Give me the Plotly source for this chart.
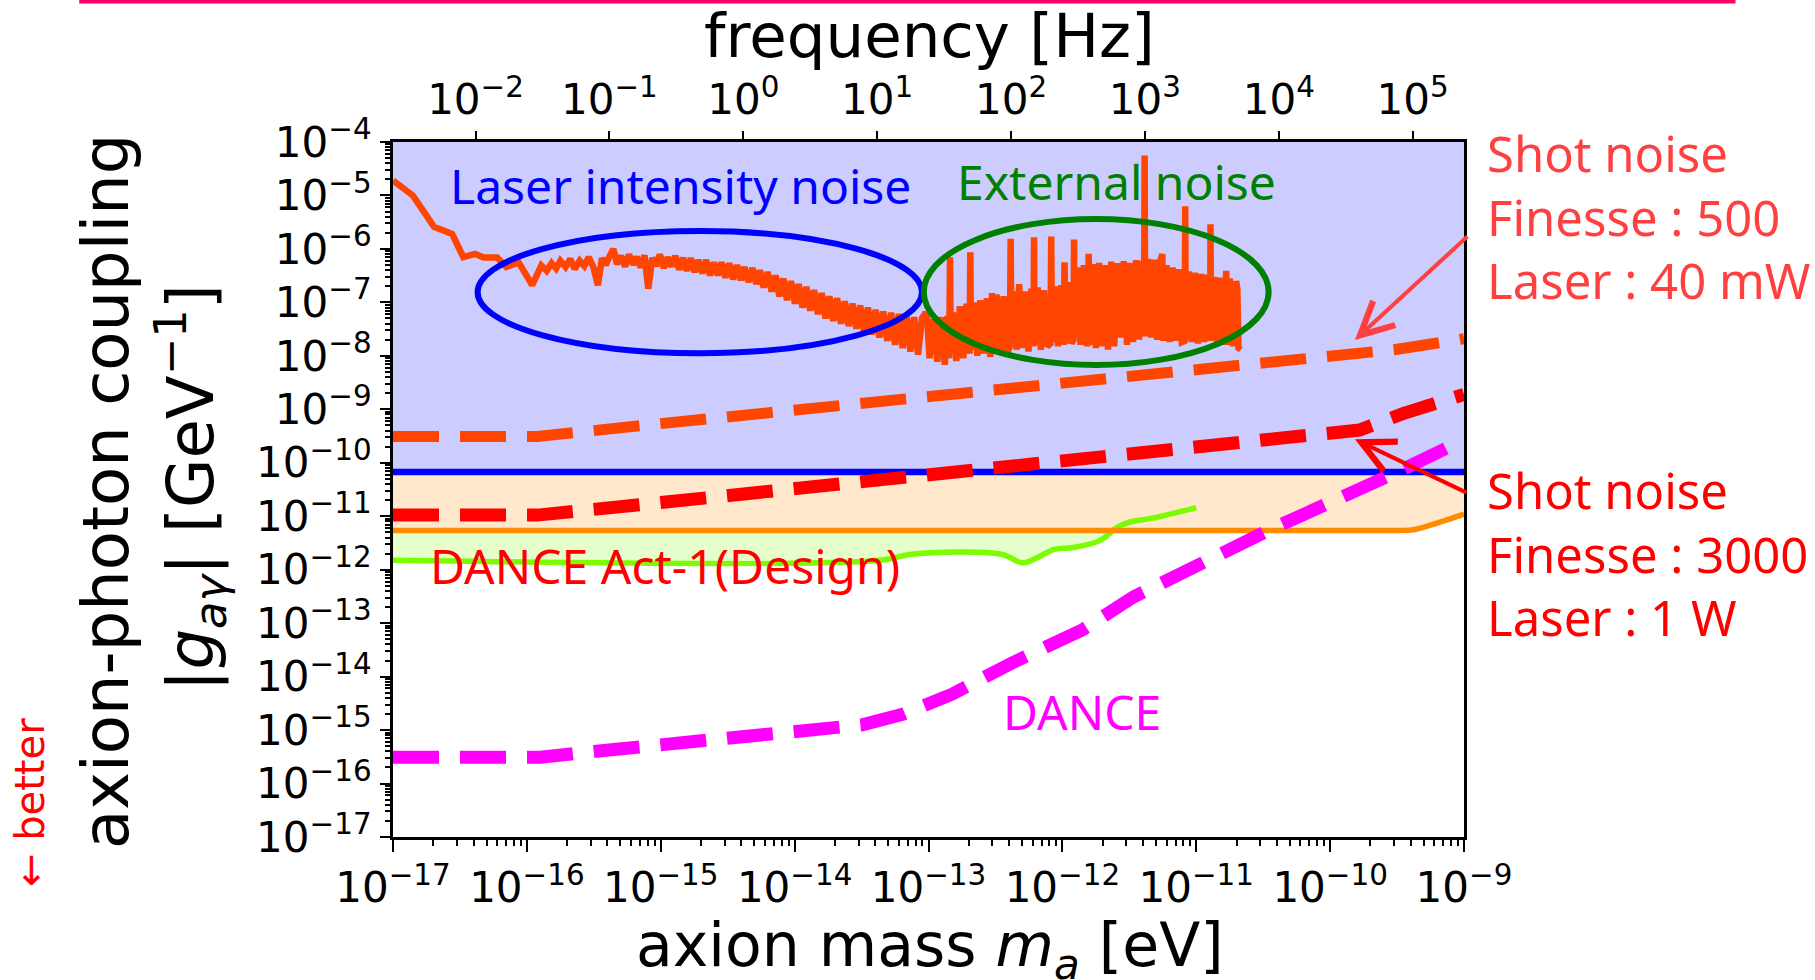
import math
import plotly.graph_objects as go

H_EV_S = 4.135667e-15  # Planck constant [eV s]: m_a = h f

# ---------------- tick labels ----------------
mass_exp = [-17, -16, -15, -14, -13, -12, -11, -10, -9]
freq_exp = [-2, -1, 0, 1, 2, 3, 4, 5]
g_exp = [-17, -16, -15, -14, -13, -12, -11, -10, -9, -8, -7, -6, -5, -4]

def sup(e):
    return "10<sup>" + str(e).replace("-", "\u2212") + "</sup>"

mass_tickvals = [10.0 ** e for e in mass_exp]
mass_ticktext = [sup(e) for e in mass_exp]
freq_tickvals = [10.0 ** e for e in freq_exp]
freq_ticktext = [sup(e) for e in freq_exp]
g_tickvals = [10.0 ** e for e in g_exp]
g_ticktext = [sup(e) for e in g_exp]

M_MIN, M_MAX = 1e-17, 1e-9
G_MIN, G_MAX = 1e-17, 1e-4

# ---------------- data ----------------
# CAST-like limit (blue)
cast_m = [1e-17, 1e-9]
cast_g = [6.7e-11, 6.7e-11]

# orange limit
orange_m = [1e-17, 3.2e-10, 4.2e-10, 5.6e-10, 7.5e-10, 1e-9]
orange_g = [5.4e-12, 5.4e-12, 5.6e-12, 6.8e-12, 8.6e-12, 1.1e-11]

# green limit
green_m = [1e-17, 4.4e-14, 7.5e-14, 3.5e-13, 5.1e-13, 8.7e-13, 1.2e-12,
           1.9e-12, 2.6e-12, 3.2e-12, 4.6e-12, 1e-11]
green_g = [1.5e-12, 1.5e-12, 1.95e-12, 1.95e-12, 1.35e-12, 2.4e-12, 2.6e-12,
           3.5e-12, 6.3e-12, 7.8e-12, 9.1e-12, 1.45e-11]

# shot noise, finesse 500, 40 mW
sn500_m = [1e-17, 1.2e-16, 1e-15, 1e-14, 1e-13, 1e-12, 1e-11, 1e-10, 3e-10, 6e-10, 1e-9]
sn500_g = [3.1e-10, 3.1e-10, 5.4e-10, 9.5e-10, 1.7e-9, 3.0e-9, 5.4e-9, 9.5e-9, 1.3e-8, 1.7e-8, 2.1e-8]

# shot noise, finesse 3000, 1 W
sn3000_m = [1e-17, 1.2e-16, 1e-15, 1e-14, 1e-13, 1e-12, 1e-11, 5e-11, 1.66e-10, 3.5e-10, 6e-10, 1e-9]
sn3000_g = [1.05e-11, 1.05e-11, 1.8e-11, 3.2e-11, 5.6e-11, 1.0e-10, 1.8e-10, 2.8e-10, 4.1e-10,
            8.3e-10, 1.3e-9, 1.9e-9]

# DANCE design sensitivity
dance_m = [1e-17, 1.26e-16, 4.3e-16, 4.8e-15, 1.6e-14, 3.2e-14, 6.5e-14, 1.5e-13, 4.2e-13,
           1.4e-12, 3.4e-12, 3.5e-11, 3.2e-10, 1e-9]
dance_g = [3.1e-16, 3.1e-16, 4.3e-16, 7.6e-16, 1.0e-15, 1.25e-15, 2.0e-15, 4.7e-15, 1.8e-14,
           7.4e-14, 3.1e-13, 5.5e-12, 6.8e-11, 2.7e-10]

# measured DANCE Act-1 noise (vs frequency, Hz)
noise_freq = [
    0.00242, 0.0034, 0.0049, 0.0067, 0.0081, 0.0099, 0.0115, 0.0145, 0.017, 0.021, 0.0265, 0.031,
    0.034, 0.037, 0.040, 0.043, 0.047, 0.051, 0.055, 0.060, 0.065, 0.070, 0.076, 0.082,
    0.088, 0.094, 0.100, 0.107, 0.114, 0.122, 0.131, 0.140, 0.150, 0.160, 0.171, 0.183,
    0.195, 0.209, 0.223, 0.238, 0.255, 0.272, 0.291, 0.311, 0.332, 0.355, 0.379, 0.405,
    0.433, 0.462, 0.494, 0.528, 0.564, 0.603, 0.644, 0.688, 0.735, 0.786, 0.840, 0.897, 0.959,
    1.02, 1.09, 1.17, 1.25, 1.33, 1.42, 1.52, 1.63, 1.74, 1.86, 1.99, 2.12, 2.27, 2.43,
    2.59, 2.77, 2.96, 3.16, 3.38, 3.61, 3.85, 4.12, 4.40, 4.70, 5.02, 5.37, 5.73, 6.12,
    6.54, 6.99, 7.47, 7.98, 8.53, 9.11, 9.74, 10.4, 11.1, 11.9, 12.7, 13.6, 14.5, 15.5,
    16.6, 17.7, 18.9, 20.2, 21.6, 23.1, 23.7, 24.6, 26.3, 28.1, 30.0, 32.0,
    33.5, 34.5, 35.0, 35.5, 37.0, 39.0, 41.5, 44.0, 46.5, 49.0, 49.6, 50.3, 53.0, 56.0,
    59.0, 62.5, 66.0, 70.0, 72.0, 74.0, 78.0, 83.0, 88.0, 93.0, 98.0, 99.3, 100.7, 106.0,
    110.0, 115.0, 120.0, 127.0, 135.0, 142.0, 147.0, 148.5, 150.0, 158.0, 167.0, 176.0,
    186.0, 197.0, 199.5, 202.0, 212.0, 224.0, 237.0, 247.0, 251.0, 255.0, 268.0, 283.0,
    293.0, 295.5, 298.0, 314.0, 330.0, 350.0, 370.0, 380.0, 392.0, 410.0, 430.0, 455.0,
    480.0, 505.0, 530.0, 560.0, 590.0, 625.0, 660.0, 695.0, 735.0, 775.0, 815.0, 860.0,
    905.0, 950.0, 985.0, 995.0, 1005.0, 1050.0, 1110.0, 1170.0, 1235.0, 1300.0, 1350.0, 1370.0,
    1450.0, 1530.0, 1610.0, 1700.0, 1795.0, 1890.0, 1985.0, 2000.0, 2015.0, 2120.0, 2240.0,
    2360.0, 2490.0, 2630.0, 2770.0, 2920.0, 3070.0, 3090.0, 3110.0, 3280.0, 3460.0, 3650.0,
    3850.0, 4050.0, 4070.0, 4300.0, 4550.0, 4800.0, 4900.0, 5000.0, 5200.0,
]
noise_g = [
    1.9e-5, 1.0e-5, 2.6e-6, 1.9e-6, 7.0e-7, 8.1e-7, 6.9e-7, 6.9e-7, 4.6e-7, 5.6e-7, 2.1e-7, 4.9e-7,
    3.9e-7, 5.4e-7, 4.3e-7, 6.0e-7, 4.6e-7, 6.5e-7, 4.2e-7, 6.0e-7, 4.8e-7, 7.0e-7, 4.5e-7, 2.1e-7,
    6.7e-7, 5.0e-7, 7.2e-7, 1.0e-6, 5.2e-7, 7.4e-7, 4.7e-7, 7.9e-7, 5.1e-7, 7.1e-7, 4.5e-7, 7.6e-7,
    1.8e-7, 6.8e-7, 4.8e-7, 7.9e-7, 4.4e-7, 7.0e-7, 4.7e-7, 7.4e-7, 4.1e-7, 6.8e-7, 3.9e-7, 6.7e-7,
    3.7e-7, 6.2e-7, 3.5e-7, 6.2e-7, 3.2e-7, 5.6e-7, 3.2e-7, 5.6e-7, 2.9e-7, 5.4e-7, 2.7e-7, 5.0e-7, 2.6e-7,
    4.6e-7, 2.4e-7, 4.4e-7, 2.2e-7, 4.0e-7, 1.9e-7, 3.7e-7, 1.6e-7, 3.2e-7, 1.3e-7, 2.8e-7, 1.1e-7, 2.5e-7, 9.5e-8,
    2.2e-7, 8.0e-8, 1.95e-7, 7.0e-8, 1.7e-7, 6.0e-8, 1.5e-7, 5.0e-8, 1.3e-7, 4.5e-8, 1.2e-7, 4.0e-8, 1.05e-7, 3.6e-8,
    9.5e-8, 3.2e-8, 8.8e-8, 2.8e-8, 8.0e-8, 2.5e-8, 7.3e-8, 2.2e-8, 6.8e-8, 1.9e-8, 6.4e-8, 1.6e-8, 6.1e-8, 1.4e-8,
    5.8e-8, 1.2e-8, 5.3e-8, 1.05e-8, 5.0e-8, 6.5e-8, 4.7e-8, 9.0e-9, 4.9e-8, 7.8e-9, 5.3e-8, 6.8e-9,
    5.6e-8, 9.0e-9, 7.0e-7, 1.2e-8, 6.5e-8, 8.0e-9, 8.5e-8, 9.0e-9, 9.5e-8, 1.1e-8, 8.7e-7, 1.3e-8, 1.0e-7, 1.0e-8,
    1.1e-7, 1.1e-8, 1.2e-7, 9.5e-9, 1.5e-7, 1.2e-8, 1.4e-7, 1.3e-8, 1.3e-7, 1.1e-8, 1.5e-8, 1.55e-6, 1.6e-8, 1.6e-7,
    1.3e-8, 2.2e-7, 1.4e-8, 1.6e-7, 1.2e-8, 1.8e-7, 1.5e-8, 1.66e-6, 1.6e-8, 1.9e-7, 1.3e-8, 1.7e-7,
    1.5e-8, 1.7e-8, 1.7e-6, 1.8e-8, 2.0e-7, 1.5e-8, 2.1e-7, 1.6e-8, 5.6e-7, 1.7e-8, 2.4e-7, 1.7e-8,
    2.0e-8, 1.5e-6, 2.2e-8, 4.5e-7, 1.6e-8, 5.0e-7, 1.5e-8, 8.1e-7, 1.6e-8, 5.2e-7, 1.4e-8, 5.5e-7,
    1.5e-8, 5.0e-7, 1.3e-8, 5.8e-7, 1.5e-8, 5.4e-7, 2.2e-8, 5.9e-7, 1.6e-8, 5.5e-7, 1.8e-8, 6.2e-7,
    2.0e-8, 6.0e-7, 2.3e-8, 5.6e-5, 2.4e-8, 6.5e-7, 2.2e-8, 6.3e-7, 2.0e-8, 5.9e-7, 8.0e-7, 1.9e-8,
    5.0e-7, 1.8e-8, 4.5e-7, 1.9e-8, 4.2e-7, 1.8e-8, 1.9e-8, 6.3e-6, 2.0e-8, 3.8e-7, 1.8e-8,
    3.6e-7, 1.7e-8, 3.4e-7, 1.8e-8, 3.3e-7, 1.9e-8, 2.9e-6, 2.0e-8, 3.0e-7, 1.7e-8, 2.9e-7,
    1.6e-8, 3.9e-7, 1.6e-8, 2.8e-7, 1.5e-8, 2.5e-7, 1.8e-7, 1.4e-8, 1.3e-8,
]

# ---------------- figure ----------------
fig = go.Figure()

def region(xs, ys, color):
    # filled region from a limit curve up to the top of the plot
    fig.add_trace(go.Scatter(
        x=list(xs) + [xs[-1], xs[0]], y=list(ys) + [G_MAX, G_MAX],
        fill="toself", fillcolor=color, mode="lines", line=dict(width=0),
        hoverinfo="skip", showlegend=False))

region(green_m, green_g, "rgb(230,254,204)")
region(orange_m, orange_g, "rgb(255,232,204)")
region(cast_m, cast_g, "rgb(204,204,255)")

def curve(xs, ys, color, width, dash=None, xaxis="x", shape="linear"):
    fig.add_trace(go.Scatter(
        x=xs, y=ys, mode="lines", xaxis=xaxis, yaxis="y",
        line=dict(color=color, width=width, dash=dash, shape=shape),
        hoverinfo="skip", showlegend=False))

curve(green_m, green_g, "#7CFC00", 5.5, shape="spline")
curve(orange_m, orange_g, "#FF8C00", 5.5, shape="spline")
curve(cast_m, cast_g, "#0000FF", 6.5)
curve(noise_freq, noise_g, "#FF4500", 6.5, xaxis="x2")
curve(sn500_m, sn500_g, "#FF4500", 11, dash="46px,21px")
curve(sn3000_m, sn3000_g, "#FF0000", 13, dash="46px,21px")
curve(dance_m, dance_g, "#FF00FF", 13, dash="46px,21px")

tickfont = dict(family="DejaVu Sans", size=42, color="black")
minor_mass = [k * 10.0 ** e for e in mass_exp[:-1] for k in range(2, 10)]
minor_g = [k * 10.0 ** e for e in g_exp[:-1] for k in range(2, 10)]

fig.update_layout(
    width=1815, height=980,
    margin=dict(l=393, r=351, t=142, b=143),
    paper_bgcolor="white", plot_bgcolor="white",
    showlegend=False,
    xaxis=dict(type="log", range=[math.log10(M_MIN), math.log10(M_MAX)],
               tickmode="array", tickvals=mass_tickvals, ticktext=mass_ticktext,
               ticks="outside", ticklen=12, tickwidth=2, tickcolor="black",
               minor=dict(tickmode="array", tickvals=minor_mass, ticks="outside",
                          ticklen=6, tickwidth=1.5, tickcolor="black", showgrid=False),
               showline=True, linecolor="black", linewidth=3, mirror=True,
               showgrid=False, zeroline=False, tickfont=tickfont),
    xaxis2=dict(type="log", overlaying="x", side="top", anchor="y",
                range=[math.log10(M_MIN / H_EV_S), math.log10(M_MAX / H_EV_S)],
                tickmode="array", tickvals=freq_tickvals, ticktext=freq_ticktext,
                ticks="outside", ticklen=10, tickwidth=2, tickcolor="black",
                showline=False, showgrid=False, zeroline=False, tickfont=tickfont),
    yaxis=dict(type="log", range=[math.log10(G_MIN), math.log10(G_MAX)],
               tickmode="array", tickvals=g_tickvals, ticktext=g_ticktext,
               ticks="outside", ticklen=10, tickwidth=2, tickcolor="black",
               minor=dict(tickmode="array", tickvals=minor_g, ticks="outside",
                          ticklen=5, tickwidth=1.5, tickcolor="black", showgrid=False),
               showline=True, linecolor="black", linewidth=3, mirror=True,
               showgrid=False, zeroline=False, tickfont=tickfont),
)

# ellipses marking noise regions
fig.add_shape(type="circle", xref="paper", yref="paper", x0=0.0790, x1=0.4939,
              y0=0.6960, y1=0.8719, line=dict(color="#0000FF", width=6), layer="above")
fig.add_shape(type="circle", xref="paper", yref="paper", x0=0.4956, x1=0.8176,
              y0=0.6791, y1=0.8892, line=dict(color="#008000", width=6), layer="above")
# slide header line
fig.add_shape(type="line", xref="paper", yref="paper", x0=-0.293, x1=1.2535,
              y0=1.2022, y1=1.2022, line=dict(color="#FF0066", width=4))

ann_font = "Noto Sans"
title_font = "DejaVu Sans"

def text(x, y, s, color, size, family=ann_font, angle=0, xanchor="center"):
    fig.add_annotation(x=x, y=y, xref="paper", yref="paper", text=s, showarrow=False,
                       font=dict(family=family, size=size, color=color),
                       textangle=angle, xanchor=xanchor, yanchor="middle", align="left")

text(0.2689, 0.9374, "Laser intensity noise", "#0000FF", 48)
text(0.6751, 0.9434, "External noise", "#008000", 48)
text(0.2536, 0.3902, "DANCE Act-1(Design)", "#FF0000", 48)
text(0.6429, 0.1803, "DANCE", "#FF00FF", 48)
text(1.0196, 0.8928, "Shot noise<br>Finesse : 500<br>Laser : 40 mW", "#FF4040", 49, xanchor="left")
text(1.0196, 0.4082, "Shot noise<br>Finesse : 3000<br>Laser : 1 W", "#FF0000", 49, xanchor="left")

# axis titles
text(0.5005, 1.153, "frequency [Hz]", "black", 61, family=title_font)
text(0.5014, -0.1615, "axion mass <i>m</i><sub><i>a</i></sub> [eV]", "black", 60, family=title_font)
text(-0.268, 0.4978, "axion-photon coupling", "black", 64, family=title_font, angle=-90)
text(-0.1895, 0.502, "|<i>g</i><sub><i>a\u03b3</i></sub>| [GeV<sup>\u22121</sup>]", "black", 64,
     family=title_font, angle=-90)
text(-0.3389, 0.0489, "\u2190 better", "#FF0000", 40, family=title_font, angle=-90)

# arrows to the shot-noise curves
for (x, y, ax, ay, c) in [(0.8982, 0.7151, 114, -105, "#FF4040"),
                          (0.8982, 0.5722, 113, 54, "#FF0000")]:
    fig.add_annotation(x=x, y=y, xref="paper", yref="paper", text="", showarrow=True,
                       ax=ax, ay=ay, arrowhead=5, arrowsize=1.6, arrowwidth=4,
                       arrowcolor=c, standoff=0)

fig.write_html("out.html")
